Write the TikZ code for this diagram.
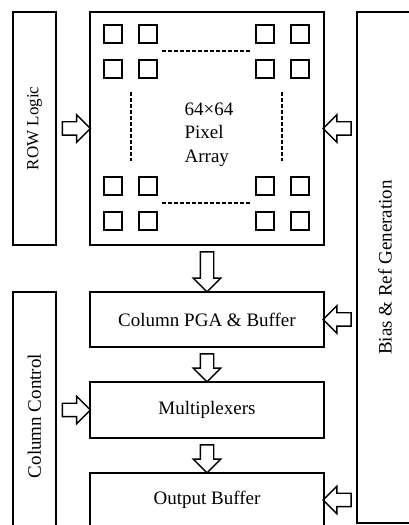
\documentclass[tikz,border=0pt]{standalone}
\usepackage{fontspec}
\usepackage{graphicx}
\setmainfont{Liberation Serif}
\usetikzlibrary{shapes.arrows,calc,positioning}

\tikzset{
  block/.style={draw, line width=1.8pt, inner sep=0pt, font=\fontsize{19}{23.5}\selectfont},
  pixel/.style={draw, line width=1.8pt, minimum size=18pt, inner sep=0pt},
  blockarrow/.style={single arrow, draw, line width=1.4pt, inner sep=6pt,
    single arrow head extend=7pt, minimum height=28pt},
  dots/.style={line width=1.6pt, dash pattern=on 3.5pt off 2.5pt}
}

\begin{document}
\begin{tikzpicture}[x=1pt,y=1pt]
		\useasboundingbox (0,0) rectangle (409,525);
		\clip (0,0) rectangle (409,525);
		\node[block, minimum width=43pt, minimum height=233pt] (row) at (34.5,396.5)
            {\rotatebox{90}{\fontsize{17}{20}\selectfont ROW Logic}};
		\node[block, minimum width=234pt, minimum height=233pt] (array) at (207,396.5) {};
		\node[block, minimum width=56pt, minimum height=511pt] (bias) at (385,257.5)
            {\rotatebox{90}{Bias \& Ref Generation}};
		\node[block, minimum width=43pt, minimum height=248pt] (colctrl) at (34.5,109)
            {\rotatebox{90}{Column Control}};
		\node[block, minimum width=234pt, minimum height=55pt] (pga) at (207,205.5)
            {\raisebox{-3pt}{Column PGA \& Buffer}};
		\node[block, minimum width=234pt, minimum height=56pt] (mux) at (207,115) {Multiplexers};
		\node[block, minimum width=234pt, minimum height=54pt] (outbuf) at (207,25) {Output Buffer};
		\foreach \dx in {24,59,176,211}
            \foreach \dy in {23,58,175,210}
                \node[pixel] (px-\dx-\dy) at ($(array.north west)+(\dx,-\dy)$) {};
		\draw[dots] ($(array.north west)+(73,-40)$) -- ++(89,0);
		\draw[dots] ($(array.north west)+(73,-192)$) -- ++(89,0);
		\draw[dots] ($(array.north west)+(42,-81)$) -- ++(0,-69);
		\draw[dots] ($(array.north west)+(193,-81)$) -- ++(0,-69);
		\node[align=left, font=\fontsize{19}{23.5}\selectfont] (arraytext)
            at ($(array.center)+(2,-6)$) {64×64\\Pixel\\Array};
		\node[blockarrow] (rowarrow) at ($(row.east)!0.5!(array.west)$) {};
		\node[blockarrow, rotate=180] (biasarray) at ($(bias.west |- array.east)!0.5!(array.east)$) {};
		\node[blockarrow, rotate=-90, minimum height=40pt] (arraypga) at ($(array.south)!0.5!(pga.north)$) {};
		\node[blockarrow, rotate=-90] (pgamux) at ($(pga.south)!0.5!(mux.north)$) {};
		\node[blockarrow, rotate=-90] (muxout) at ($(mux.south)!0.5!(outbuf.north)$) {};
		\node[blockarrow] (colarrow) at ($(colctrl.east |- mux.west)!0.5!(mux.west)$) {};
		\node[blockarrow, rotate=180] (biaspga) at ($(bias.west |- pga.east)!0.5!(pga.east)$) {};
		\node[blockarrow, rotate=180] (biasout) at ($(bias.west |- outbuf.east)!0.5!(outbuf.east)$) {};
	\end{tikzpicture}
\end{document}
